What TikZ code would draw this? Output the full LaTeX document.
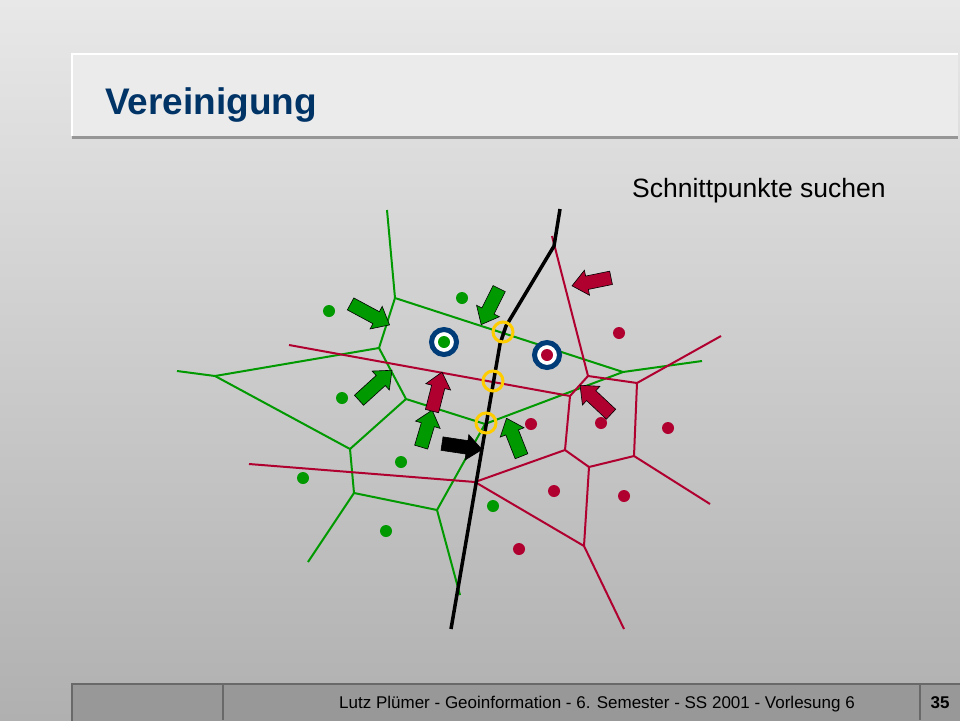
\documentclass[tikz,border=0pt]{standalone}
\usepackage{fontspec}
\setmainfont{Liberation Sans}
\usetikzlibrary{calc,shapes.arrows}
\definecolor{titleblue}{RGB}{0,51,102}
\definecolor{vgreen}{RGB}{0,153,0}
\definecolor{vred}{RGB}{176,0,48}
\definecolor{ringblue}{RGB}{0,60,120}
\definecolor{hityellow}{RGB}{255,204,0}
\definecolor{bgtop}{RGB}{232,232,232}
\definecolor{bgbot}{RGB}{176,176,176}
\definecolor{titlefill}{RGB}{235,235,235}
\definecolor{titleshadow}{RGB}{150,150,150}
\definecolor{footfill}{RGB}{152,152,152}
\definecolor{footline}{RGB}{105,105,105}

\begin{document}
\begin{tikzpicture}[x=1pt,y=-1pt, % flip y axis, one unit = one pixel
    gedge/.style={vgreen, line width=2pt},
    redge/.style={vred, line width=2pt},
    site/.style={circle, inner sep=0pt, minimum size=12pt},
    ring/.style={circle, draw=ringblue, line width=5pt, fill=white, inner sep=0pt, minimum size=25pt},
    hit/.style={circle, draw=hityellow, line width=3pt, inner sep=0pt, minimum size=20pt},
    fatarrow/.style={single arrow, draw=black, line width=0.6pt, inner xsep=0pt, inner ysep=6.5pt,
      single arrow head extend=6pt, single arrow tip angle=80},
    label/.style={inner sep=0pt}
  ]
  \useasboundingbox (0,0) rectangle (960,720);
  \shade[top color=bgtop, bottom color=bgbot] (0,0) rectangle (960,720);

  % title bar
  \fill[titlefill] (72,54) rectangle (958,136);
  \draw[white, line width=1.5pt] (72,136) -- (72,54) -- (958,54);
  \draw[titleshadow, line width=3pt] (72,137.5) -- (958,137.5);
  \node[label, anchor=base west, text=titleblue, font=\fontsize{37}{44}\selectfont\bfseries] (title) at (105,114) {Vereinigung};
  \node[label, anchor=base west, font=\fontsize{26.5}{32}\selectfont] (task) at (632,197) {Schnittpunkte suchen};

  % footer
  \draw[fill=footfill, draw=footline, line width=1.5pt] (72,684) rectangle (962,722);
  \draw[footline, line width=1.5pt] (223,684) -- (223,720);
  \draw[footline, line width=1.5pt] (920,684) -- (920,720);
  \node[label, anchor=base east, font=\fontsize{17}{20}\selectfont] (footer) at (855,708) {Lutz Plümer - Geoinformation - 6. Semester - SS 2001 - Vorlesung 6};
  \node[label, anchor=base, font=\fontsize{17}{20}\selectfont\bfseries] (page) at (940,708) {35};

  % green voronoi vertices
  \coordinate (gT) at (387,210);
  \coordinate (gA) at (395,298);
  \coordinate (gB) at (623,372);
  \coordinate (gBe) at (702,361);
  \coordinate (gC) at (379,348);
  \coordinate (gD) at (215,376);
  \coordinate (gDe) at (177,371);
  \coordinate (gE) at (406,399);
  \coordinate (gF) at (350,449);
  \coordinate (gG) at (485,424);
  \coordinate (gH) at (437,510);
  \coordinate (gHe) at (460,595);
  \coordinate (gI) at (354,493);
  \coordinate (gIe) at (308,562);

  % red voronoi vertices
  \coordinate (rT) at (552,236);
  \coordinate (rA) at (588,376);
  \coordinate (rB) at (637,383);
  \coordinate (rBe) at (721,336);
  \coordinate (rC) at (634,456);
  \coordinate (rCe) at (710,504);
  \coordinate (rD) at (570,396);
  \coordinate (rL) at (289,345);
  \coordinate (rE) at (565,450);
  \coordinate (rF) at (589,467);
  \coordinate (rG) at (584,546);
  \coordinate (rGe) at (624,629);
  \coordinate (rH) at (475,482);
  \coordinate (rHe) at (249,464);

  % dividing line
  \coordinate (bT) at (560,209);
  \coordinate (bA) at (554,246);
  \coordinate (bB) at (506,326);
  \coordinate (bC) at (500,344);
  \coordinate (bE) at (451,629);

  \draw[gedge] (gT) -- (gA) -- (gB) -- (gBe);
  \draw[gedge] (gA) -- (gC) -- (gD) -- (gDe);
  \draw[gedge] (gC) -- (gE) -- (gG) -- (gB);
  \draw[gedge] (gD) -- (gF) -- (gE);
  \draw[gedge] (gG) -- (gH) -- (gHe);
  \draw[gedge] (gF) -- (gI) -- (gH);
  \draw[gedge] (gI) -- (gIe);

  \draw[redge] (rT) -- (rA) -- (rB) -- (rBe);
  \draw[redge] (rB) -- (rC) -- (rCe);
  \draw[redge] (rA) -- (rD);
  \draw[redge] (rL) -- (rD) -- (rE) -- (rF) -- (rC);
  \draw[redge] (rF) -- (rG) -- (rGe);
  \draw[redge] (rG) -- (rH) -- (rE);
  \draw[redge] (rH) -- (rHe);

  \draw[black, line width=3.5pt, line join=round] (bT) -- (bA) -- (bB) -- (bC) -- (bE);

  % sites
  \foreach \x/\y [count=\k] in {329/311,462/298,342/398,401/462,303/478,386/531,493/506}
    \node[site, fill=vgreen] (gs\k) at (\x,\y) {};
  \foreach \x/\y [count=\k] in {619/333,531/424,601/423,668/428,554/491,624/496,519/549}
    \node[site, fill=vred] (rs\k) at (\x,\y) {};
  \node[ring] (gring) at (444,342) {};
  \node[site, fill=vgreen] (gs8) at (gring) {};
  \node[ring] (rring) at (547,355) {};
  \node[site, fill=vred] (rs8) at (rring) {};

  % intersections
  \foreach \x/\y [count=\k] in {503/332,493/381,486/423}
    \node[hit] (hit\k) at (\x,\y) {};

  % pointers
  \foreach \ax/\ay/\bx/\by/\c [count=\k] in {
      347/302/386/323/vgreen, 356/403/389/373/vgreen, 501/285/483/321/vgreen,
      420/451/431/414/vgreen, 523/460/508/422/vgreen, 431/415/441/376/vred,
      615/277/576/285/vred, 614/417/583/388/vred, 438/443/478/449/black}
    \path let \p1=($(\bx,\by)-(\ax,\ay)$), \n1={atan2(\y1,\x1)}, \n2={veclen(\x1,\y1)} in
      node[fatarrow, fill=\c, rotate=\n1, minimum height=\n2] (arrow\k) at ($(\ax,\ay)!0.5!(\bx,\by)$) {};
\end{tikzpicture}
\end{document}
